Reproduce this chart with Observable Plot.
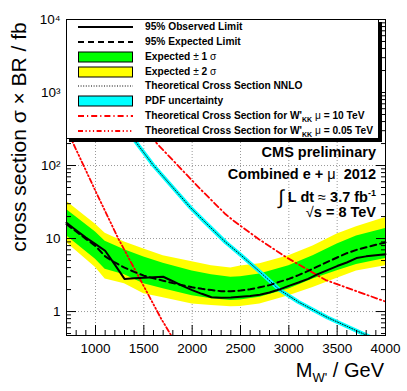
<!DOCTYPE html>
<html><head><meta charset="utf-8">
<script src="https://cdn.jsdelivr.net/npm/d3@7"></script>
<script src="https://cdn.jsdelivr.net/npm/@observablehq/plot@0.6"></script>
<style>
body{margin:0;background:#fff;font-family:"Liberation Sans",Arial,Helvetica,sans-serif;}
#wrap{position:relative;width:407px;height:391px;overflow:hidden;}
.ov{position:absolute;white-space:nowrap;color:#000;}
#legend{position:absolute;left:66px;top:19px;width:311px;height:118px;background:#fff;border:1px solid #000;box-shadow:3px 3px 0 #000;}
.row{position:absolute;left:0;height:14px;width:100%;}
.sym{position:absolute;left:11px;top:0;width:55px;height:14px;}
.lt{position:absolute;left:78px;top:0;line-height:14px;font-size:10.2px;font-weight:bold;white-space:nowrap;}
.nb{font-weight:normal;}
.info{position:absolute;right:31px;font-weight:bold;font-size:14.5px;white-space:nowrap;text-align:right;}
</style></head><body><div id="wrap"></div>
<script>
// ---- data ----
const massGrid = [700,800,900,1000,1100,1200,1300,1400,1500,1600,1700,1800,1900,2000,2100,2200,2300,2400,2500,2600,2700,2800,2900,3000,3100,3200,3300,3400,3500,3600,3700,3800,3900,4000];
const observed = [16.5,13.0,10.3,8.4,6.8,4.4,2.8,2.85,2.9,2.95,3.0,2.6,2.25,1.97,1.75,1.57,1.55,1.56,1.6,1.63,1.7,1.82,2.0,2.25,2.5,2.8,3.25,3.7,4.2,4.7,5.4,5.7,5.9,6.1];
const expected = [15.7,12.5,9.9,7.9,5.7,4.7,4.0,3.5,3.1,2.85,2.65,2.45,2.3,2.15,2.05,1.97,1.9,1.9,1.94,2.02,2.15,2.3,2.55,2.8,3.15,3.6,4.15,4.8,5.5,6.3,7.0,7.6,8.2,8.8];

const bandMass = [700,1000,1100,1300,1500,1700,2000,2200,2400,2500,2700,3000,3250,3500,3700,4000];
const sig1Up   = [25,12.3,9.2,7.0,5.6,4.6,3.6,3.2,2.95,3.0,3.27,4.24,5.8,8.4,10.8,13.7];
const sig1Down = [10.9,5.2,3.8,3.2,2.4,2.05,1.65,1.5,1.42,1.44,1.57,2.04,2.79,3.62,4.4,5.33];
const sig2Up   = [32.5,15.7,11.8,9.0,7.2,5.8,4.8,4.25,3.95,4.2,4.5,5.8,7.9,11.5,14.5,19.4];
const sig2Down = [8.8,4.0,2.8,2.4,1.75,1.55,1.27,1.21,1.16,1.17,1.27,1.65,2.14,2.85,3.6,4.24];

const nnloMass = [700,1000,1200,1424,1600,1800,1983,2121,2346,2500,2700,2900,3100,3400,3764,4000];
const nnloXsec = [5500,1300,520,204,100,50,26.5,17.4,8.9,6.0,3.5,2.0,1.35,0.83,0.50,0.36];

const kk10Mass = [700,1000,1200,1645,2087,2346,2432,2690,2967,3381,4000];
const kk10Xsec = [6300,1800,870,194,47.2,21.5,17.4,9.8,5.6,2.7,1.37];

const kk005Mass = [700,775,1000,1231,1404,1680,1794,1900];
const kk005Xsec = [330,194,44.8,10.3,3.83,0.795,0.446,0.28];

const xMajor = [1000,1500,2000,2500,3000,3500,4000];
const xGrid = [1000,1500,2000,2500,3000,3500];
const xMinor = [700,800,900,1100,1200,1300,1400,1600,1700,1800,1900,2100,2200,2300,2400,2600,2700,2800,2900,3100,3200,3300,3400,3600,3700,3800,3900];
const yMajor = [1,10,100,1000,10000];
const yTickLabels = ["1","10","10\u00B2","10\u00B3","10\u2074"];
const yGrid = [1,10,100,1000];
const yMinor = [0.5,0.6,0.7,0.8,0.9,2,3,4,5,6,7,8,9,20,30,40,50,60,70,80,90,200,300,400,500,600,700,800,900,2000,3000,4000,5000,6000,7000,8000,9000];

// ---- tables ----
const lim = massGrid.map((m,i)=>({m, obs: observed[i], exp: expected[i]}));
const band = bandMass.map((m,i)=>({m, g1: sig1Down[i], g2: sig1Up[i], y1: sig2Down[i], y2: sig2Up[i]}));
const nnlo = nnloMass.map((m,i)=>({m, v: nnloXsec[i]}));
const kk10 = kk10Mass.map((m,i)=>({m, v: kk10Xsec[i]}));
const kk005 = kk005Mass.map((m,i)=>({m, v: kk005Xsec[i]}));
const yLabelOf = d => yTickLabels[yMajor.findIndex(v => Math.abs(v - d) < 1e-9 * v)] ?? String(d);

const gridStyle = {stroke:"#999", strokeOpacity:1, strokeDasharray:"1,2", strokeWidth:1};

const chart = Plot.plot({
  width: 407, height: 391,
  marginLeft: 66, marginRight: 22, marginTop: 19, marginBottom: 56,
  style: {fontFamily: "'Liberation Sans', Arial, sans-serif", fontSize: "13.5px", background: "white", color: "black"},
  x: {domain: [700, 4000]},
  y: {type: "log", domain: [0.47, 10000]},
  marks: [
    Plot.gridX(xGrid, gridStyle),
    Plot.gridY(yGrid, gridStyle),
    Plot.areaY(band, {x: "m", y1: "y1", y2: "y2", fill: "#ffff00", curve: "linear"}),
    Plot.areaY(band, {x: "m", y1: "g1", y2: "g2", fill: "#00ff00", curve: "linear"}),
    Plot.line(kk005, {x: "m", y: "v", stroke: "#ff0000", strokeWidth: 1.8, strokeDasharray: "5,2.5,1.2,2.5,1.2,2.5,1.2,2.5", clip: true}),
    Plot.line(kk10, {x: "m", y: "v", stroke: "#ff0000", strokeWidth: 1.8, strokeDasharray: "6,3,1.2,3", clip: true}),
    Plot.line(nnlo, {x: "m", y: "v", stroke: "#00ffff", strokeWidth: 4, clip: true}),
    Plot.line(nnlo, {x: "m", y: "v", stroke: "#000", strokeWidth: 0.9, strokeDasharray: "1,1.6", clip: true}),
    Plot.line(lim, {x: "m", y: "exp", stroke: "#000", strokeWidth: 2, strokeDasharray: "6,4"}),
    Plot.line(lim, {x: "m", y: "obs", stroke: "#000", strokeWidth: 2}),
    Plot.frame({stroke: "#000"}),
    Plot.axisX(xMajor, {anchor: "bottom", tickSize: 0, tickPadding: 8, label: null, tickFormat: d => String(d)}),
    Plot.axisX(xMajor, {anchor: "bottom", tickSize: 10, dy: -10, text: null, label: null}),
    Plot.axisX(xMinor, {anchor: "bottom", tickSize: 5, dy: -5, text: null, label: null}),
    Plot.axisY(yMajor, {anchor: "left", tickSize: 0, tickPadding: 6, label: null, tickFormat: yLabelOf}),
    Plot.axisY(yMajor, {anchor: "left", tickSize: 10, dx: 10, text: null, label: null}),
    Plot.axisY(yMinor, {anchor: "left", tickSize: 5, dx: 5, text: null, label: null}),
    Plot.axisY(yMajor, {anchor: "right", tickSize: 10, dx: -10, text: null, label: null}),
    Plot.axisY(yMinor, {anchor: "right", tickSize: 5, dx: -5, text: null, label: null})
  ]
});
const wrap = document.getElementById("wrap");
wrap.appendChild(chart);

// ---- overlay texts ----
function lineSym(dash, color, w) {
  return `<svg class="sym" width="55" height="14"><line x1="0" y1="7" x2="55" y2="7" stroke="${color}" stroke-width="${w}" ${dash ? `stroke-dasharray="${dash}"` : ""}/></svg>`;
}
function boxSym(color) {
  return `<svg class="sym" width="55" height="14"><rect x="0.5" y="2" width="54" height="10" fill="${color}" stroke="#000" stroke-width="1"/></svg>`;
}
const legendRows = [
  [lineSym(null, "#000", 2), "95% Observed Limit"],
  [lineSym("6,4", "#000", 2), "95% Expected Limit"],
  [boxSym("#00ff00"), "Expected <span class='nb'>\u00B1</span> 1 <span class='nb'>\u03C3</span>"],
  [boxSym("#ffff00"), "Expected <span class='nb'>\u00B1</span> 2 <span class='nb'>\u03C3</span>"],
  [lineSym("1,1.6", "#000", 1), "Theoretical Cross Section NNLO"],
  [boxSym("#00ffff"), "PDF uncertainty"],
  [lineSym("6,3,1.2,3", "#ff0000", 1.8), "Theoretical Cross Section for W'<sub style='font-size:7px'>KK</sub> <span class='nb'>\u03BC</span> = 10 TeV"],
  [lineSym("5,2.5,1.2,2.5,1.2,2.5,1.2,2.5", "#ff0000", 1.8), "Theoretical Cross Section for W'<sub style='font-size:7px'>KK</sub> <span class='nb'>\u03BC</span> = 0.05 TeV"]
];
const legend = document.createElement("div");
legend.id = "legend";
legend.innerHTML = legendRows.map((r, i) =>
  `<div class="row" style="top:${i * 14.85}px">${r[0]}<div class="lt">${r[1]}</div></div>`).join("");
wrap.appendChild(legend);

const over = document.createElement("div");
over.innerHTML = `
<div class="info" style="top:144px">CMS preliminary</div>
<div class="info" style="top:166px">Combined e + <span class="nb">\u03BC</span>&nbsp; 2012</div>
<div class="info" style="top:184px"><span class="nb" style="font-size:20px;position:relative;top:2px">\u222B</span> L dt <span class="nb">\u2248</span> 3.7 fb<sup style="font-size:9px">-1</sup></div>
<div class="info" style="top:204px"><span class="nb">\u221A</span>s = 8 TeV</div>
<div class="ov" style="left:19px;top:137px;font-size:21px;transform:translate(-50%,-50%) rotate(-90deg);">cross section \u03C3 \u00D7 BR / fb</div>
<div class="ov" style="right:23px;top:359px;font-size:20px;">M<sub style="font-size:13px">W'</sub> / GeV</div>
`;
wrap.appendChild(over);
</script>
</body></html>
